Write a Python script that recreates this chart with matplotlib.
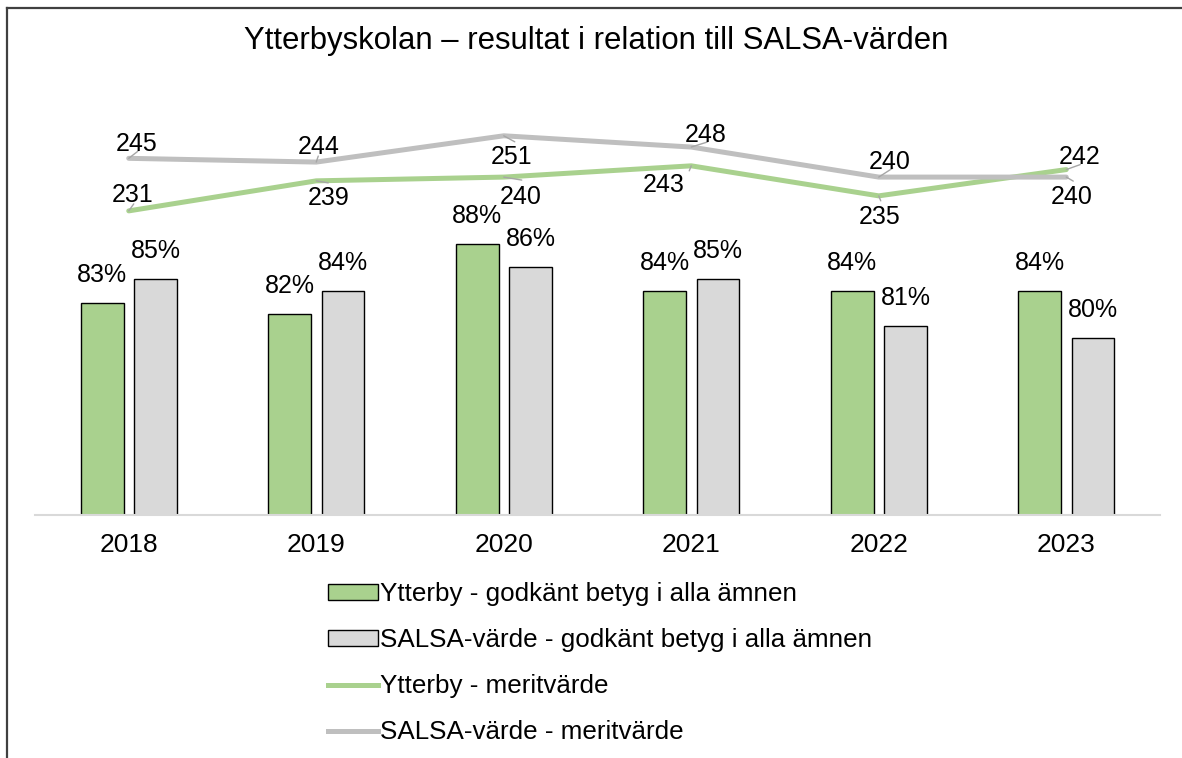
import matplotlib
matplotlib.use("Agg")
import matplotlib.pyplot as plt
from matplotlib.lines import Line2D
from matplotlib.patches import Patch

plt.rcParams['font.family'] = ['Liberation Sans', 'DejaVu Sans']

years = ["2018", "2019", "2020", "2021", "2022", "2023"]
ytterby_godkant = [0.83, 0.82, 0.88, 0.84, 0.84, 0.84]
salsa_godkant = [0.85, 0.84, 0.86, 0.85, 0.81, 0.80]
ytterby_merit = [231, 239, 240, 243, 235, 242]
salsa_merit = [245, 244, 251, 248, 240, 240]

# label offsets (pixels, dx right, dy down) and leader vectors
salsa_lab_off = [(8, -14), (2, -15.5), (8, 21), (14, -12.5), (11, -15.5), (5, 19.5)]
salsa_lead = [(9, -7), (2, -6), (11, 6), (16, -5), (14, -9), (7, 4)]
ytt_lab_off = [(4, -16), (12, 17), (17, 19.5), (-27.5, 19), (1, 21), (13, -13)]
ytt_lead = [(5, -7), (12, 2), (18, 3), (-2, 5), (2, 5), (14, -5)]

GREEN = '#a9d18e'
GRAYBAR = '#d9d9d9'
GRAYLINE = '#bfbfbf'

W, H = 1182, 758
fig = plt.figure(figsize=(W / 100, H / 100), dpi=100)
ax = fig.add_axes([35 / W, 1 - 515 / H, 1125 / W, 413 / H])
ax2 = ax.twinx()

x = list(range(len(years)))
bw = 0.229
off = 0.1425
ax.bar([i - off for i in x], ytterby_godkant, bw, color=GREEN, edgecolor='black', linewidth=1, zorder=2)
ax.bar([i + off for i in x], salsa_godkant, bw, color=GRAYBAR, edgecolor='black', linewidth=1, zorder=2)
ax.set_ylim(0.65, 1.0)
ax.set_xlim(-0.5, 5.5)

PX = 72 / 100.0
for i in x:
    ax.annotate(f"{round(ytterby_godkant[i]*100)}%", (i - off, ytterby_godkant[i]),
                xytext=(0, 28 * PX), textcoords='offset points', ha='center', va='center', fontsize=18)
    ax.annotate(f"{round(salsa_godkant[i]*100)}%", (i + off, salsa_godkant[i]),
                xytext=(0, 28 * PX), textcoords='offset points', ha='center', va='center', fontsize=18)

ax2.plot(x, ytterby_merit, color=GREEN, lw=3.6, solid_capstyle='round', zorder=3)
ax2.plot(x, salsa_merit, color=GRAYLINE, lw=3.6, solid_capstyle='round', zorder=3)
ax2.set_ylim(150, 260)

for vals, offs, leads in [(ytterby_merit, ytt_lab_off, ytt_lead), (salsa_merit, salsa_lab_off, salsa_lead)]:
    for i in x:
        dx, dy = offs[i]
        ax2.annotate(str(vals[i]), (i, vals[i]), xytext=(dx * PX, -dy * PX), textcoords='offset points',
                     ha='center', va='center', fontsize=18, zorder=5)
        lx, ly = leads[i]
        ax2.annotate('', (i, vals[i]), xytext=(lx * PX, -ly * PX), textcoords='offset points',
                     arrowprops=dict(arrowstyle='-', color='#a6a6a6', lw=1, shrinkA=0, shrinkB=0), zorder=4)

for a in (ax, ax2):
    for s in ['top', 'right', 'left']:
        a.spines[s].set_visible(False)
    a.set_yticks([])
ax2.spines['bottom'].set_visible(False)
ax.spines['bottom'].set_color('#d9d9d9')
ax.spines['bottom'].set_linewidth(1.5)
ax.set_xticks(x)
ax.set_xticklabels(years, fontsize=19)
ax.tick_params(axis='x', length=0, pad=13)

fig.text(596 / W, 1 - 41 / H, "Ytterbyskolan – resultat i relation till SALSA-värden",
         ha='center', va='center', fontsize=22.4)

handles = [Patch(facecolor=GREEN, edgecolor='black', linewidth=1),
           Patch(facecolor=GRAYBAR, edgecolor='black', linewidth=1),
           Line2D([], [], color=GREEN, lw=3.6),
           Line2D([], [], color=GRAYLINE, lw=3.6)]
labels = ["Ytterby - godkänt betyg i alla ämnen", "SALSA-värde - godkänt betyg i alla ämnen",
          "Ytterby - meritvärde", "SALSA-värde - meritvärde"]
fig.legend(handles, labels, loc='upper left', bbox_to_anchor=(328 / W, 1 - 582 / H), frameon=False,
           fontsize=18.7, handlelength=1.92, handleheight=0.55, handletextpad=0.1, labelspacing=0.85,
           borderaxespad=0, borderpad=0)

fig.add_artist(Line2D([7 / W, 7 / W], [0, 1 - 8 / H], color='#404040', lw=1.6, transform=fig.transFigure))
fig.add_artist(Line2D([7 / W, 1], [1 - 8 / H, 1 - 8 / H], color='#404040', lw=1.6, transform=fig.transFigure))

fig.savefig("out.png", dpi=100)
